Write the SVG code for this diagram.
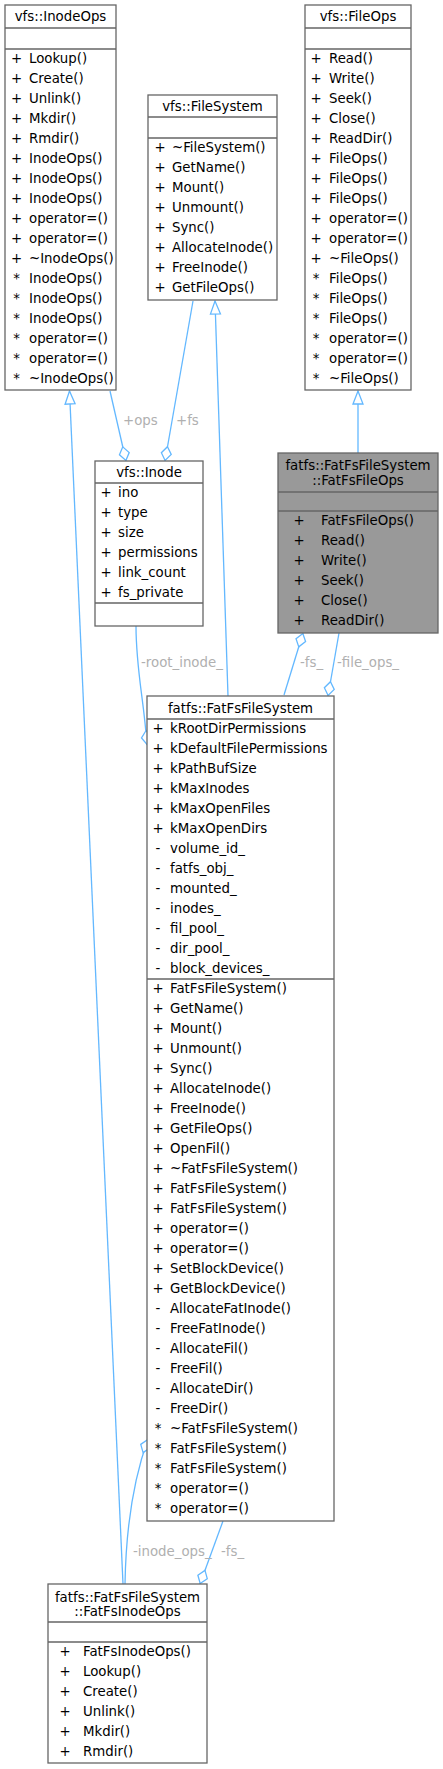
<svg xmlns="http://www.w3.org/2000/svg" width="443" height="1769" viewBox="0 0 443 1769">
<style>
.box{fill:#fff;stroke:#666;stroke-width:1.3}
.hl{fill:#999}
.sep{stroke:#666;stroke-width:1.3;fill:none}
text{font-family:"DejaVu Sans","Liberation Sans",sans-serif;font-size:13.33px;fill:#000}
.c{text-anchor:middle}
.e{fill:none;stroke:#63b8ff;stroke-width:1.3}
.lbl{fill:#b0b0b0}
</style>
<defs>
<marker id="inh" markerUnits="userSpaceOnUse" markerWidth="16" markerHeight="14" refX="14" refY="7" orient="auto" overflow="visible">
<path d="M1,2 L14,7 L1,12 Z" fill="#fff" stroke="#63b8ff" stroke-width="1.3"/>
</marker>
<marker id="agg" markerUnits="userSpaceOnUse" markerWidth="16" markerHeight="12" refX="15" refY="5.5" orient="auto" overflow="visible">
<path d="M0.5,5.5 L7.5,0.5 L14.5,5.5 L7.5,10.5 Z" fill="#fff" stroke="#63b8ff" stroke-width="1.3"/>
</marker>
</defs>
<rect width="443" height="1769" fill="#fff"/>

<g id="connectors">
<path class="e" d="M123,1584 L69.5,391" marker-end="url(#inh)"/>
<path class="e" d="M228,696 L215,301" marker-end="url(#inh)"/>
<path class="e" d="M358,453 L358,391" marker-end="url(#inh)"/>
<path class="e" d="M110,391 L126,461" marker-end="url(#agg)"/>
<path class="e" d="M193,301 L165,461" marker-end="url(#agg)"/>
<path class="e" d="M136,626 C136,670 144,700 147,745" marker-end="url(#agg)"/>
<path class="e" d="M284,695 L303,633" marker-end="url(#agg)"/>
<path class="e" d="M339,633 L328,696" marker-end="url(#agg)"/>
<path class="e" d="M125,1584 C126,1525 135,1475 148,1439" marker-end="url(#agg)"/>
<path class="e" d="M223,1521 L200,1584" marker-end="url(#agg)"/>
<text class="lbl" x="123" y="425">+ops</text>
<text class="lbl" x="176" y="425">+fs</text>
<text class="lbl" x="141" y="667">-root_inode_</text>
<text class="lbl" x="300" y="667">-fs_</text>
<text class="lbl" x="337" y="667">-file_ops_</text>
<text class="lbl" x="133" y="1556">-inode_ops_</text>
<text class="lbl" x="221" y="1556">-fs_</text>
</g>

<g id="InodeOps">
<rect class="box" x="5" y="5" width="111" height="385"/>
<path class="sep" d="M5,28 H116 M5,49 H116"/>
<text class="c" x="60.5" y="21">vfs::InodeOps</text>
<text class="c"><tspan x="16.5" y="63">+</tspan><tspan x="16.5" y="83">+</tspan><tspan x="16.5" y="103">+</tspan><tspan x="16.5" y="123">+</tspan><tspan x="16.5" y="143">+</tspan><tspan x="16.5" y="163">+</tspan><tspan x="16.5" y="183">+</tspan><tspan x="16.5" y="203">+</tspan><tspan x="16.5" y="223">+</tspan><tspan x="16.5" y="243">+</tspan><tspan x="16.5" y="263">+</tspan><tspan x="16.5" y="283">*</tspan><tspan x="16.5" y="303">*</tspan><tspan x="16.5" y="323">*</tspan><tspan x="16.5" y="343">*</tspan><tspan x="16.5" y="363">*</tspan><tspan x="16.5" y="383">*</tspan></text>
<text><tspan x="29" y="63">Lookup()</tspan><tspan x="29" y="83">Create()</tspan><tspan x="29" y="103">Unlink()</tspan><tspan x="29" y="123">Mkdir()</tspan><tspan x="29" y="143">Rmdir()</tspan><tspan x="29" y="163">InodeOps()</tspan><tspan x="29" y="183">InodeOps()</tspan><tspan x="29" y="203">InodeOps()</tspan><tspan x="29" y="223">operator=()</tspan><tspan x="29" y="243">operator=()</tspan><tspan x="29" y="263">~InodeOps()</tspan><tspan x="29" y="283">InodeOps()</tspan><tspan x="29" y="303">InodeOps()</tspan><tspan x="29" y="323">InodeOps()</tspan><tspan x="29" y="343">operator=()</tspan><tspan x="29" y="363">operator=()</tspan><tspan x="29" y="383">~InodeOps()</tspan></text>
</g>

<g id="FileOps">
<rect class="box" x="305" y="5" width="106" height="385"/>
<path class="sep" d="M305,28 H411 M305,49 H411"/>
<text class="c" x="358" y="21">vfs::FileOps</text>
<text class="c"><tspan x="316" y="63">+</tspan><tspan x="316" y="83">+</tspan><tspan x="316" y="103">+</tspan><tspan x="316" y="123">+</tspan><tspan x="316" y="143">+</tspan><tspan x="316" y="163">+</tspan><tspan x="316" y="183">+</tspan><tspan x="316" y="203">+</tspan><tspan x="316" y="223">+</tspan><tspan x="316" y="243">+</tspan><tspan x="316" y="263">+</tspan><tspan x="316" y="283">*</tspan><tspan x="316" y="303">*</tspan><tspan x="316" y="323">*</tspan><tspan x="316" y="343">*</tspan><tspan x="316" y="363">*</tspan><tspan x="316" y="383">*</tspan></text>
<text><tspan x="329" y="63">Read()</tspan><tspan x="329" y="83">Write()</tspan><tspan x="329" y="103">Seek()</tspan><tspan x="329" y="123">Close()</tspan><tspan x="329" y="143">ReadDir()</tspan><tspan x="329" y="163">FileOps()</tspan><tspan x="329" y="183">FileOps()</tspan><tspan x="329" y="203">FileOps()</tspan><tspan x="329" y="223">operator=()</tspan><tspan x="329" y="243">operator=()</tspan><tspan x="329" y="263">~FileOps()</tspan><tspan x="329" y="283">FileOps()</tspan><tspan x="329" y="303">FileOps()</tspan><tspan x="329" y="323">FileOps()</tspan><tspan x="329" y="343">operator=()</tspan><tspan x="329" y="363">operator=()</tspan><tspan x="329" y="383">~FileOps()</tspan></text>
</g>

<g id="FileSystem">
<rect class="box" x="148" y="95" width="129" height="205"/>
<path class="sep" d="M148,117 H277 M148,138 H277"/>
<text class="c" x="212.5" y="111">vfs::FileSystem</text>
<text class="c"><tspan x="160" y="152">+</tspan><tspan x="160" y="172">+</tspan><tspan x="160" y="192">+</tspan><tspan x="160" y="212">+</tspan><tspan x="160" y="232">+</tspan><tspan x="160" y="252">+</tspan><tspan x="160" y="272">+</tspan><tspan x="160" y="292">+</tspan></text>
<text><tspan x="172" y="152">~FileSystem()</tspan><tspan x="172" y="172">GetName()</tspan><tspan x="172" y="192">Mount()</tspan><tspan x="172" y="212">Unmount()</tspan><tspan x="172" y="232">Sync()</tspan><tspan x="172" y="252">AllocateInode()</tspan><tspan x="172" y="272">FreeInode()</tspan><tspan x="172" y="292">GetFileOps()</tspan></text>
</g>

<g id="Inode">
<rect class="box" x="95" y="461" width="108" height="165"/>
<path class="sep" d="M95,483 H203 M95,603 H203"/>
<text class="c" x="149" y="477">vfs::Inode</text>
<text class="c"><tspan x="106" y="497">+</tspan><tspan x="106" y="517">+</tspan><tspan x="106" y="537">+</tspan><tspan x="106" y="557">+</tspan><tspan x="106" y="577">+</tspan><tspan x="106" y="597">+</tspan></text>
<text><tspan x="118" y="497">ino</tspan><tspan x="118" y="517">type</tspan><tspan x="118" y="537">size</tspan><tspan x="118" y="557">permissions</tspan><tspan x="118" y="577">link_count</tspan><tspan x="118" y="597">fs_private</tspan></text>
</g>

<g id="FatFsFileOps">
<rect class="box hl" x="278" y="453" width="160" height="180"/>
<path class="sep" d="M278,492 H438 M278,511 H438"/>
<text class="c"><tspan x="358" y="470">fatfs::FatFsFileSystem</tspan><tspan x="358" y="485">::FatFsFileOps</tspan></text>
<text class="c"><tspan x="299" y="525">+</tspan><tspan x="299" y="545">+</tspan><tspan x="299" y="565">+</tspan><tspan x="299" y="585">+</tspan><tspan x="299" y="605">+</tspan><tspan x="299" y="625">+</tspan></text>
<text><tspan x="321" y="525">FatFsFileOps()</tspan><tspan x="321" y="545">Read()</tspan><tspan x="321" y="565">Write()</tspan><tspan x="321" y="585">Seek()</tspan><tspan x="321" y="605">Close()</tspan><tspan x="321" y="625">ReadDir()</tspan></text>
</g>

<g id="FatFsFileSystem">
<rect class="box" x="147" y="696" width="187" height="825"/>
<path class="sep" d="M147,719 H334 M147,979 H334"/>
<text class="c" x="240.5" y="712.5">fatfs::FatFsFileSystem</text>
<text class="c"><tspan x="158" y="733">+</tspan><tspan x="158" y="753">+</tspan><tspan x="158" y="773">+</tspan><tspan x="158" y="793">+</tspan><tspan x="158" y="813">+</tspan><tspan x="158" y="833">+</tspan><tspan x="158" y="853">-</tspan><tspan x="158" y="873">-</tspan><tspan x="158" y="893">-</tspan><tspan x="158" y="913">-</tspan><tspan x="158" y="933">-</tspan><tspan x="158" y="953">-</tspan><tspan x="158" y="973">-</tspan></text>
<text><tspan x="170" y="733">kRootDirPermissions</tspan><tspan x="170" y="753">kDefaultFilePermissions</tspan><tspan x="170" y="773">kPathBufSize</tspan><tspan x="170" y="793">kMaxInodes</tspan><tspan x="170" y="813">kMaxOpenFiles</tspan><tspan x="170" y="833">kMaxOpenDirs</tspan><tspan x="170" y="853">volume_id_</tspan><tspan x="170" y="873">fatfs_obj_</tspan><tspan x="170" y="893">mounted_</tspan><tspan x="170" y="913">inodes_</tspan><tspan x="170" y="933">fil_pool_</tspan><tspan x="170" y="953">dir_pool_</tspan><tspan x="170" y="973">block_devices_</tspan></text>
<text class="c"><tspan x="158" y="993">+</tspan><tspan x="158" y="1013">+</tspan><tspan x="158" y="1033">+</tspan><tspan x="158" y="1053">+</tspan><tspan x="158" y="1073">+</tspan><tspan x="158" y="1093">+</tspan><tspan x="158" y="1113">+</tspan><tspan x="158" y="1133">+</tspan><tspan x="158" y="1153">+</tspan><tspan x="158" y="1173">+</tspan><tspan x="158" y="1193">+</tspan><tspan x="158" y="1213">+</tspan><tspan x="158" y="1233">+</tspan><tspan x="158" y="1253">+</tspan><tspan x="158" y="1273">+</tspan><tspan x="158" y="1293">+</tspan><tspan x="158" y="1313">-</tspan><tspan x="158" y="1333">-</tspan><tspan x="158" y="1353">-</tspan><tspan x="158" y="1373">-</tspan><tspan x="158" y="1393">-</tspan><tspan x="158" y="1413">-</tspan><tspan x="158" y="1433">*</tspan><tspan x="158" y="1453">*</tspan><tspan x="158" y="1473">*</tspan><tspan x="158" y="1493">*</tspan><tspan x="158" y="1513">*</tspan></text>
<text><tspan x="170" y="993">FatFsFileSystem()</tspan><tspan x="170" y="1013">GetName()</tspan><tspan x="170" y="1033">Mount()</tspan><tspan x="170" y="1053">Unmount()</tspan><tspan x="170" y="1073">Sync()</tspan><tspan x="170" y="1093">AllocateInode()</tspan><tspan x="170" y="1113">FreeInode()</tspan><tspan x="170" y="1133">GetFileOps()</tspan><tspan x="170" y="1153">OpenFil()</tspan><tspan x="170" y="1173">~FatFsFileSystem()</tspan><tspan x="170" y="1193">FatFsFileSystem()</tspan><tspan x="170" y="1213">FatFsFileSystem()</tspan><tspan x="170" y="1233">operator=()</tspan><tspan x="170" y="1253">operator=()</tspan><tspan x="170" y="1273">SetBlockDevice()</tspan><tspan x="170" y="1293">GetBlockDevice()</tspan><tspan x="170" y="1313">AllocateFatInode()</tspan><tspan x="170" y="1333">FreeFatInode()</tspan><tspan x="170" y="1353">AllocateFil()</tspan><tspan x="170" y="1373">FreeFil()</tspan><tspan x="170" y="1393">AllocateDir()</tspan><tspan x="170" y="1413">FreeDir()</tspan><tspan x="170" y="1433">~FatFsFileSystem()</tspan><tspan x="170" y="1453">FatFsFileSystem()</tspan><tspan x="170" y="1473">FatFsFileSystem()</tspan><tspan x="170" y="1493">operator=()</tspan><tspan x="170" y="1513">operator=()</tspan></text>
</g>

<g id="FatFsInodeOps">
<rect class="box" x="48" y="1584" width="159" height="179"/>
<path class="sep" d="M48,1622 H207 M48,1642 H207"/>
<text class="c"><tspan x="127.5" y="1601.5">fatfs::FatFsFileSystem</tspan><tspan x="127.5" y="1616">::FatFsInodeOps</tspan></text>
<text class="c"><tspan x="65" y="1656">+</tspan><tspan x="65" y="1676">+</tspan><tspan x="65" y="1696">+</tspan><tspan x="65" y="1716">+</tspan><tspan x="65" y="1736">+</tspan><tspan x="65" y="1756">+</tspan></text>
<text><tspan x="83" y="1656">FatFsInodeOps()</tspan><tspan x="83" y="1676">Lookup()</tspan><tspan x="83" y="1696">Create()</tspan><tspan x="83" y="1716">Unlink()</tspan><tspan x="83" y="1736">Mkdir()</tspan><tspan x="83" y="1756">Rmdir()</tspan></text>
</g>
</svg>
